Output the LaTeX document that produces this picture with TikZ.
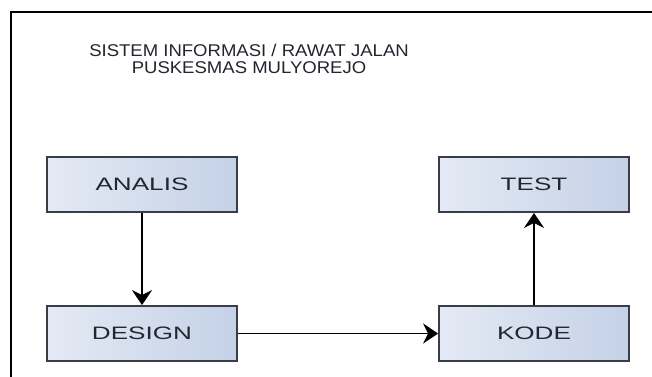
\documentclass[tikz,border=0pt]{standalone}
\usepackage{fontspec}
\setmainfont{Liberation Sans}
\newfontfamily\boxfont[FakeStretch=1.45]{Liberation Sans}
\newfontfamily\titlefont[FakeStretch=1.09]{Liberation Sans}
\usetikzlibrary{arrows.meta}
\definecolor{boxL}{HTML}{E4EAF4}
\definecolor{boxR}{HTML}{C4D1E7}
\definecolor{boxD}{HTML}{383D48}
\definecolor{txt}{HTML}{22262E}
\tikzset{
  stagebox/.style={draw=boxD, line width=1.8pt, left color=boxL, right color=boxR,
    minimum width=190pt, minimum height=55pt, inner sep=0pt,
    font=\boxfont\fontsize{18}{18}\selectfont, text=txt},
  flow/.style={line width=1.8pt, draw=black, -{Stealth[length=15pt,width=20pt,inset=5pt]}},
  titletext/.style={font=\titlefont\fontsize{17}{17.5}\selectfont, text=txt, align=center}
}
\begin{document}
\begin{tikzpicture}[x=1pt,y=-1pt]
\useasboundingbox (0,0) rectangle (652,376);
\fill[white] (0,0) rectangle (652,376);
\coordinate (fTR) at (660,12);
\coordinate (fTL) at (11,12);
\coordinate (fBL) at (11,380);
\draw[line width=2.2pt] (fTR) -- (fTL) -- (fBL);
\node[titletext] (title) at (249,59) {SISTEM INFORMASI / RAWAT JALAN\\PUSKESMAS MULYOREJO};
\node[stagebox] (analis) at (142,184.5) {ANALIS};
\node[stagebox] (design) at (142,333.5) {DESIGN};
\node[stagebox] (test) at (534,184.5) {TEST};
\node[stagebox] (kode) at (534,333.5) {KODE};
\draw[flow] (analis) -- (design);
\draw[flow] (design) -- (kode);
\draw[flow] (kode) -- (test);
\end{tikzpicture}
\end{document}
